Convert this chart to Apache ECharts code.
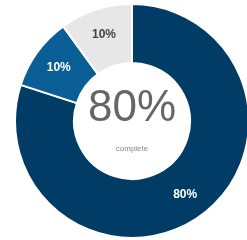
<!DOCTYPE html>
<html>
<head>
<meta charset="utf-8">
<script src="https://cdn.jsdelivr.net/npm/echarts@6/dist/echarts.min.js"></script>
<style>
  html, body { margin: 0; padding: 0; background: #fff; }
  #chart { width: 247px; height: 240px; }
</style>
</head>
<body>
<div id="chart"></div>
<script>
// slices, clockwise from 12 o'clock
var names = ['complete', 'in progress', 'remaining'];
var values = [80, 10, 10];
var colors = ['#003c66', '#0a5e96', '#e7e7e7'];
var labelColors = ['#ffffff', '#ffffff', '#444444'];
var centerText = '80%';
var centerSub = 'complete';

var myChart = echarts.init(document.getElementById('chart'));

var pieData = names.map(function (n, i) {
  return {
    name: n,
    value: values[i],
    itemStyle: { color: colors[i] },
    label: { color: labelColors[i] }
  };
});

var option = {
  animation: false,
  series: [{
    type: 'pie',
    center: [132, 121],
    radius: [58, 117],
    startAngle: 90,
    clockwise: true,
    itemStyle: { borderColor: '#fff', borderWidth: 2 },
    label: {
      position: 'inside',
      formatter: '{d}%',
      fontFamily: 'Liberation Sans, Arial, sans-serif',
      fontWeight: 'bold',
      fontSize: 12
    },
    labelLine: { show: false },
    emphasis: { disabled: true },
    data: pieData
  }],
  graphic: [
    {
      type: 'text',
      x: 132, y: 109,
      style: {
        text: centerText,
        fill: '#666',
        font: '44px Liberation Sans, Arial, sans-serif',
        align: 'center',
        verticalAlign: 'middle'
      }
    },
    {
      type: 'text',
      x: 132, y: 149,
      style: {
        text: centerSub,
        fill: '#888',
        font: '8px Liberation Sans, Arial, sans-serif',
        align: 'center',
        verticalAlign: 'middle'
      }
    }
  ]
};

myChart.setOption(option);
</script>
</body>
</html>
